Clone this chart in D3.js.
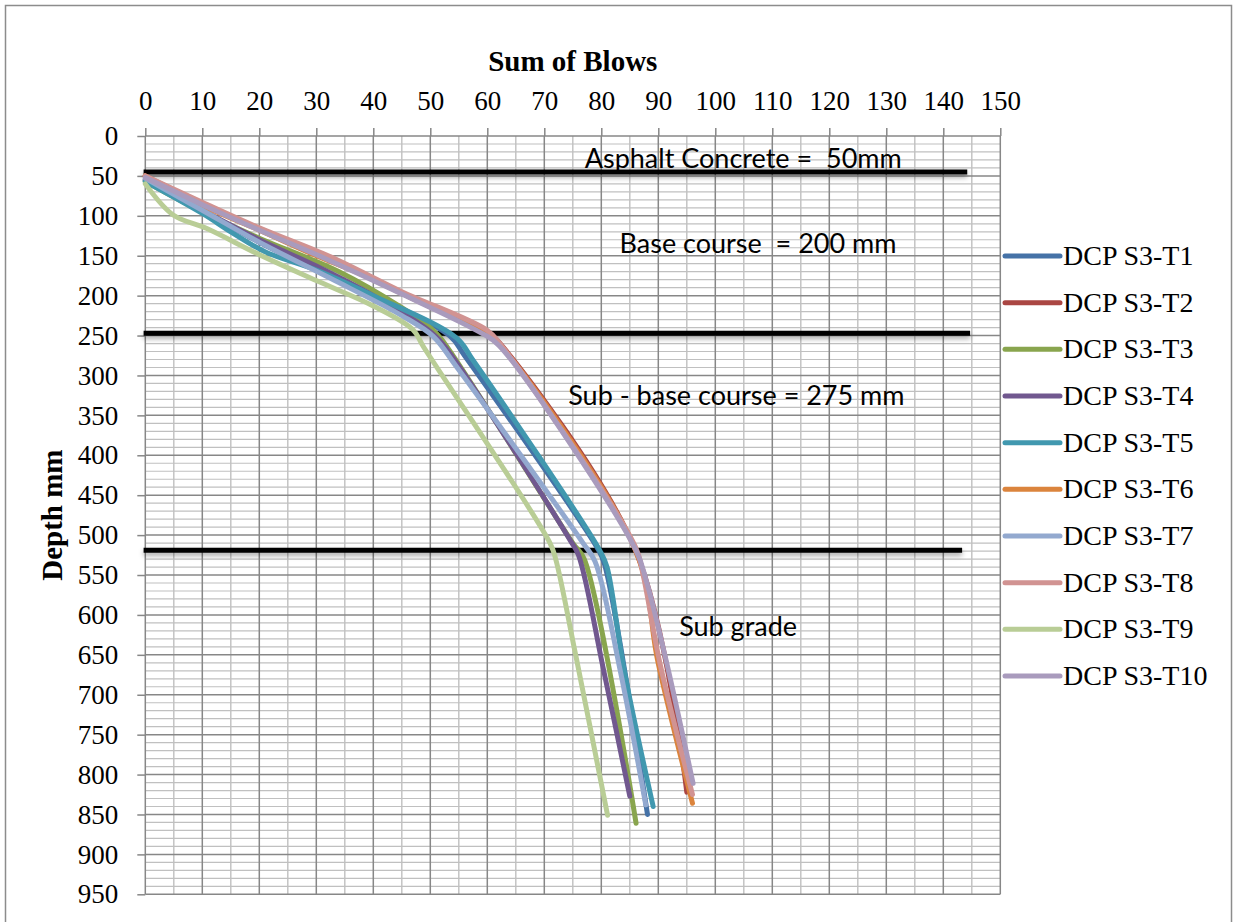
<!DOCTYPE html>
<html>
<head>
<meta charset="utf-8">
<script src="https://cdn.jsdelivr.net/npm/d3@7"></script>
<style>
  body { margin: 0; background: #fff; }
  svg { display: block; }
</style>
</head>
<body>
<div class="chart"></div>
<script>
// series names and colours (Excel 2007 palette)
const seriesNames  = ['DCP S3-T1', 'DCP S3-T2', 'DCP S3-T3', 'DCP S3-T4', 'DCP S3-T5',
                      'DCP S3-T6', 'DCP S3-T7', 'DCP S3-T8', 'DCP S3-T9', 'DCP S3-T10'];
const seriesColors = ['#4572A7', '#AA4643', '#89A54E', '#71588F', '#4198AF',
                      '#DB843D', '#93A9CF', '#D19392', '#B9CD96', '#A99BBD'];

// [sum of blows, depth mm]
const t1  = [[0,55],[10,94],[20,133],[30,168],[40,200],[53.5,251],[56,275],[79.2,515],[80.5,535],[88.1,850]];
const t2  = [[0,50],[10,85],[20,116],[30,146],[40,180],[50,214],[60,245],[62,258],[86,519],[95,822]];
const t3  = [[0,57],[10,95],[20,128],[34,170],[45,215],[50,240],[52,255],[75,510],[77,530],[86.1,861]];
const t4  = [[0,55],[10,93],[20,130],[30,163],[40,200],[50,245],[53,268],[74.5,506],[76,525],[80.4,669],[85,827]];
const t5  = [[0,57],[10,97],[15,120],[21,145],[30,168],[40,200],[54.6,253],[57.5,281],[79.8,520],[81,540],[84,669],[89.1,840]];
const t6  = [[0,50],[10,87],[20,118],[30,150],[38.8,176],[50,214],[59.5,245],[62,260],[86,519],[90,661],[96,836]];
const t7  = [[0,53],[10,93],[20,133],[32.4,178],[45,225],[50.5,251],[54.6,289],[76.8,510],[78.9,533],[83.3,669],[87.8,838]];
const t8  = [[0,50],[10,83],[20,115],[32.4,151],[45,195],[59.9,243],[62.2,260],[86,515],[87.4,552],[90.3,661],[96,825]];
const t9  = [[0,60],[4.9,99],[10.8,116],[20.1,149],[30.6,183],[40,213],[47,243],[48.8,264],[71,510],[72,530],[75.5,650],[81.1,851]];
const t10 = [[0,52],[10,86],[20,118],[32,155],[45,198],[59,247],[62,262],[86,518],[88,560],[91.5,661],[96.1,811]];
const seriesData = [t1, t2, t3, t4, t5, t6, t7, t8, t9, t10];

// layer boundary lines: depth, end blows
const layerDepths = [45, 247, 519];
const layerEnds   = [144.2, 144.7, 143.3];

// layer labels: text, centre blows, baseline depth
const layerLabels = ['Asphalt Concrete =  50mm', 'Base course  = 200 mm', 'Sub - base course = 275 mm', 'Sub grade'];
const labelBlows  = [104.9, 107.5, 103.7, 104];
const labelDepths = [40, 147, 337, 627];

const xTicks = d3.range(0, 151, 10);
const yTicks = d3.range(0, 951, 50);

const width = 1235, height = 922;
const plot = { left: 145.3, right: 1000.3, top: 136, bottom: 894.3 };
const serif = '"Liberation Serif", "Times New Roman", serif';

const svg = d3.select('.chart').append('svg')
  .attr('width', width).attr('height', height);

// outer frame
svg.append('rect')
  .attr('x', 5.5).attr('y', 5.5)
  .attr('width', 1226).attr('height', 940)
  .attr('fill', 'none').attr('stroke', '#8c8c8c').attr('stroke-width', 1.5);

const x = d3.scaleLinear().domain([0, 150]).range([plot.left, plot.right]);
const y = d3.scaleLinear().domain([0, 950]).range([plot.top, plot.bottom]);

// minor grid
const grid = svg.append('g');
grid.selectAll('.vminor').data(d3.range(5, 150, 10)).enter().append('line')
  .attr('x1', d => x(d)).attr('x2', d => x(d))
  .attr('y1', plot.top).attr('y2', plot.bottom)
  .attr('stroke', '#c0c0c0').attr('stroke-width', 1.4);
grid.selectAll('.hminor').data(d3.range(10, 950, 10).filter(d => d % 50 !== 0)).enter().append('line')
  .attr('x1', plot.left).attr('x2', plot.right)
  .attr('y1', d => y(d)).attr('y2', d => y(d))
  .attr('stroke', '#c0c0c0').attr('stroke-width', 1.2);

// axes with major grid
const xAxis = svg.append('g')
  .attr('transform', `translate(0,${plot.top})`)
  .call(d3.axisTop(x).tickValues(xTicks).tickSize(8).tickPadding(18));
const yAxis = svg.append('g')
  .attr('transform', `translate(${plot.left},0)`)
  .call(d3.axisLeft(y).tickValues(yTicks).tickSize(8).tickPadding(19));

grid.selectAll('.vmajor').data(xTicks).enter().append('line')
  .attr('x1', d => x(d)).attr('x2', d => x(d))
  .attr('y1', plot.top).attr('y2', plot.bottom)
  .attr('stroke', '#878787').attr('stroke-width', 1.5);
grid.selectAll('.hmajor').data(yTicks).enter().append('line')
  .attr('x1', plot.left).attr('x2', plot.right)
  .attr('y1', d => y(d)).attr('y2', d => y(d))
  .attr('stroke', '#878787').attr('stroke-width', 1.5);

[xAxis, yAxis].forEach(a => {
  a.select('.domain').remove();
  a.selectAll('.tick line').attr('stroke', '#878787').attr('stroke-width', 1.5);
  a.selectAll('.tick text')
    .style('font-family', serif)
    .style('font-size', '27px').attr('fill', '#000');
});

// titles
svg.append('text')
  .attr('x', x(75)).attr('y', 71)
  .attr('text-anchor', 'middle')
  .style('font-family', serif)
  .style('font-size', '29px').style('font-weight', 'bold')
  .text('Sum of Blows');

svg.append('text')
  .attr('transform', `translate(62,${(plot.top + plot.bottom) / 2}) rotate(-90)`)
  .attr('text-anchor', 'middle')
  .style('font-family', serif)
  .style('font-size', '29px').style('font-weight', 'bold')
  .text('Depth mm');

// layer boundary lines with soft shadow
const defs = svg.append('defs');
const shadow = defs.append('filter').attr('id', 'shadow')
  .attr('filterUnits', 'userSpaceOnUse')
  .attr('x', 0).attr('y', 0).attr('width', width).attr('height', height);
shadow.append('feDropShadow')
  .attr('dx', 0).attr('dy', 3).attr('stdDeviation', 2.5)
  .attr('flood-color', '#000').attr('flood-opacity', 0.35);

svg.append('g').selectAll('line').data(layerDepths).enter().append('line')
  .attr('x1', x(-0.3)).attr('x2', (d, i) => x(layerEnds[i]))
  .attr('y1', d => y(d)).attr('y2', d => y(d))
  .attr('stroke', '#000').attr('stroke-width', 5)
  .attr('filter', 'url(#shadow)');

// layer labels
svg.append('g').selectAll('text').data(layerLabels).enter().append('text')
  .attr('x', (d, i) => x(labelBlows[i]))
  .attr('y', (d, i) => y(labelDepths[i]))
  .attr('text-anchor', 'middle')
  .style('font-family', 'Lato, "Open Sans", sans-serif')
  .style('font-size', '27px')
  .style('white-space', 'pre')
  .text(d => d);

// series lines
const line = d3.line().x(d => x(d[0])).y(d => y(d[1])).curve(d3.curveCatmullRom.alpha(0.5));

svg.append('g').selectAll('path').data(seriesData).enter().append('path')
  .attr('d', line)
  .attr('fill', 'none')
  .attr('stroke', (d, i) => seriesColors[i])
  .attr('stroke-width', 5)
  .attr('stroke-linejoin', 'round')
  .attr('stroke-linecap', 'round');

// legend
const legend = svg.append('g').attr('transform', 'translate(1005,256)');
const item = legend.selectAll('g').data(seriesNames).enter().append('g')
  .attr('transform', (d, i) => `translate(0,${i * 46.67})`);
item.append('line')
  .attr('x1', 0).attr('x2', 55).attr('y1', 0).attr('y2', 0)
  .attr('stroke', (d, i) => seriesColors[i])
  .attr('stroke-width', 5).attr('stroke-linecap', 'round');
item.append('text')
  .attr('x', 58).attr('y', 9)
  .style('font-family', serif)
  .style('font-size', '28px')
  .text(d => d);
</script>
</body>
</html>
